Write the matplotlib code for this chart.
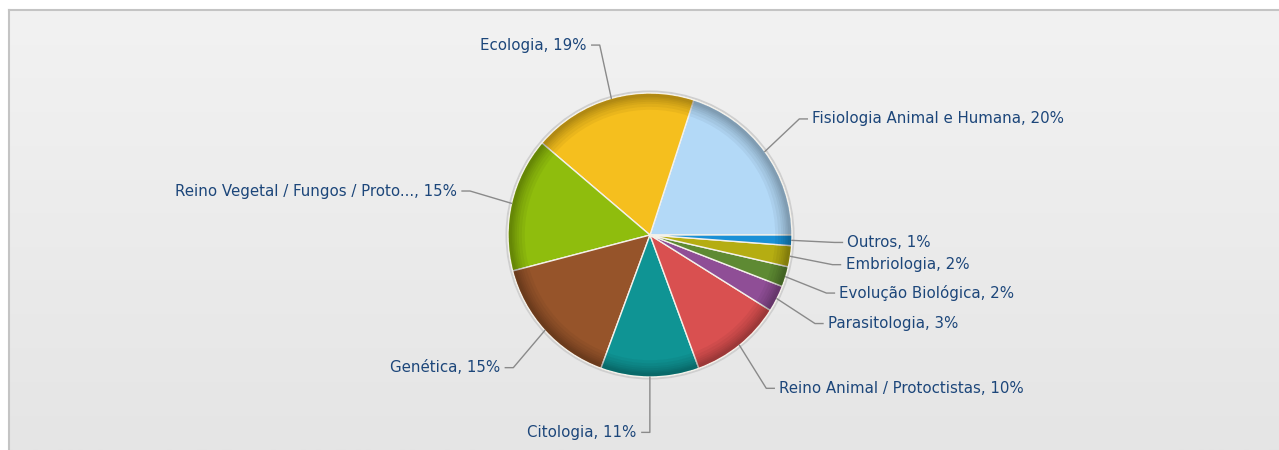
import matplotlib.pyplot as plt
import numpy as np
from matplotlib.patches import Wedge, Circle

# data (percent shares, counterclockwise from 3 o'clock)
labels = ['Fisiologia Animal e Humana', 'Ecologia', 'Reino Vegetal / Fungos / Proto...',
          'Genética', 'Citologia', 'Reino Animal / Protoctistas', 'Parasitologia',
          'Evolução Biológica', 'Embriologia', 'Outros']
values = [20.0, 18.75, 15.3, 15.3, 11.2, 10.5, 3.0, 2.3, 2.4, 1.2]
shown = ['20%', '19%', '15%', '15%', '11%', '10%', '3%', '2%', '2%', '1%']
colors = ['#b3d9f7', '#f5bf1e', '#8fbd0d', '#96542a', '#0f9494', '#d95050',
          '#8f4e96', '#5e8a33', '#b5ad12', '#1a90d6']

W, H = 1279, 450
fig = plt.figure(figsize=(W / 100, H / 100), dpi=100)
ax = fig.add_axes([0, 0, 1, 1])

# panel background with soft vertical gradient
grad = np.linspace(0, 1, 256).reshape(-1, 1)
ax.imshow(grad, cmap=plt.matplotlib.colors.LinearSegmentedColormap.from_list(
    'bg', ['#e5e5e5', '#f2f2f2']), extent=[9, W, 0, H - 10], origin='lower',
    aspect='auto', zorder=0)
ax.plot([8.5, W], [H - 9.5, H - 9.5], color='#c4c4c4', lw=1.5, zorder=1)
ax.plot([8.5, 8.5], [0, H - 9.5], color='#c4c4c4', lw=1.5, zorder=1)

cx, cy, r = 650, H - 235, 142
ax.add_patch(Circle((cx, cy), r + 1.5, facecolor='none', edgecolor='#cfcfcf', lw=1.5, zorder=2))

wedges, _ = ax.pie(values, colors=colors, startangle=0, counterclock=True,
                   center=(cx, cy), radius=r, frame=True,
                   wedgeprops=dict(edgecolor='#f4f1ea', linewidth=1.0))
for w in wedges:
    w.set_zorder(3)

# bevel shading along the rim
for w in wedges:
    for bw in [16, 13, 10, 8, 6, 4.5, 3]:
        ax.add_patch(Wedge((cx, cy), r - 0.8, w.theta1, w.theta2, width=bw,
                           facecolor='black', alpha=0.045, lw=0, zorder=4))

ax.set_xlim(0, W)
ax.set_ylim(0, H)
ax.set_aspect('equal')
ax.axis('off')

text_color = '#1c467a'
for w, lab, pct in zip(wedges, labels, shown):
    mid = np.deg2rad((w.theta1 + w.theta2) / 2)
    x0, y0 = cx + r * np.cos(mid), cy + r * np.sin(mid)
    x1, y1 = cx + 1.3 * r * np.cos(mid), cy + 1.39 * r * np.sin(mid)
    side = 1 if np.cos(mid) >= 0 else -1
    x2 = x1 + side * 8
    ax.plot([x0, x1, x2], [y0, y1, y1], color='#8a8a8a', lw=1, zorder=5)
    ax.text(x2 + side * 5, y1, f'{lab}, {pct}', color=text_color, fontsize=10.8,
            family='DejaVu Sans', ha='left' if side > 0 else 'right', va='center', zorder=6)

fig.savefig('out.png', dpi=100)
